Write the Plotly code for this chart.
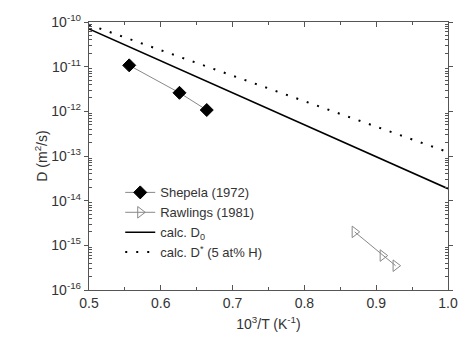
import plotly.graph_objects as go

# Data
shepela_x = [0.556, 0.626, 0.664]
shepela_y = [1.07e-11, 2.6e-12, 1.07e-12]
rawlings_x = [0.870, 0.909, 0.927]
rawlings_y = [2.0e-15, 5.9e-16, 3.5e-16]
calc_d0_x = [0.5, 1.0]
calc_d0_y = [7.0e-11, 1.85e-14]
calc_dstar_x = [0.5, 1.0]
calc_dstar_y = [8.7e-11, 1.22e-13]

y_tickvals = [1e-16, 1e-15, 1e-14, 1e-13, 1e-12, 1e-11, 1e-10]
y_ticktext = ["10<sup>-16</sup>", "10<sup>-15</sup>", "10<sup>-14</sup>", "10<sup>-13</sup>",
              "10<sup>-12</sup>", "10<sup>-11</sup>", "10<sup>-10</sup>"]
x_tickvals = [0.5, 0.6, 0.7, 0.8, 0.9, 1.0]
x_ticktext = ["0.5", "0.6", "0.7", "0.8", "0.9", "1.0"]

fig = go.Figure()
fig.add_trace(go.Scatter(
    x=shepela_x, y=shepela_y, mode="lines+markers", name="Shepela (1972)",
    line=dict(color="#888888", width=1),
    marker=dict(symbol="diamond", size=10, color="black", line=dict(color="black", width=1))))
fig.add_trace(go.Scatter(
    x=rawlings_x, y=rawlings_y, mode="lines+markers", name="Rawlings (1981)",
    line=dict(color="#888888", width=1),
    marker=dict(symbol="triangle-right-open", size=10, color="#888888", line=dict(width=1))))
fig.add_trace(go.Scatter(
    x=calc_d0_x, y=calc_d0_y, mode="lines", name="calc. D<sub>0</sub>",
    line=dict(color="black", width=1.6)))
fig.add_trace(go.Scatter(
    x=calc_dstar_x, y=calc_dstar_y, mode="lines", name="calc. D<sup>*</sup> (5 at% H)",
    line=dict(color="black", width=2, dash="2px,9px")))

axis_common = dict(showline=True, linecolor="#555555", linewidth=1.3, mirror="ticks",
                   showgrid=False, zeroline=False, tickcolor="#555555",
                   tickfont=dict(size=14, color="#333333"))

fig.update_xaxes(range=[0.5, 1.0], tickvals=x_tickvals, ticktext=x_ticktext,
                 ticks="inside", ticklen=5,
                 minor=dict(dtick=0.05, ticks="inside", ticklen=3, tickcolor="#555555"),
                 title=dict(text="10<sup>3</sup>/T (K<sup>-1</sup>)", font=dict(size=14, color="#333333"),
                            standoff=9),
                 **axis_common)
fig.update_yaxes(type="log", range=[-16, -10], tickvals=y_tickvals, ticktext=y_ticktext,
                 ticks="outside", ticklen=4,
                 minor=dict(ticks="inside", ticklen=3, tickcolor="#555555",
                            tickvals=[m * 10.0 ** e for e in range(-16, -10) for m in range(2, 10)]),
                 title=dict(text="D (m<sup>2</sup>/s)", font=dict(size=14, color="#333333"),
                            standoff=0),
                 **axis_common)

fig.update_layout(
    width=470, height=345,
    margin=dict(l=89, r=12, t=21, b=55),
    plot_bgcolor="white", paper_bgcolor="white",
    font=dict(family="Liberation Sans, Arial, sans-serif", color="#333333"),
    legend=dict(x=0.087, y=0.42, xanchor="left", yanchor="top",
                font=dict(size=13, color="#333333"), bgcolor="rgba(0,0,0,0)",
                itemwidth=30, tracegroupgap=0),
)

fig.write_html("out.html", config={"displayModeBar": False},
               post_script="document.body.style.margin='0';")
